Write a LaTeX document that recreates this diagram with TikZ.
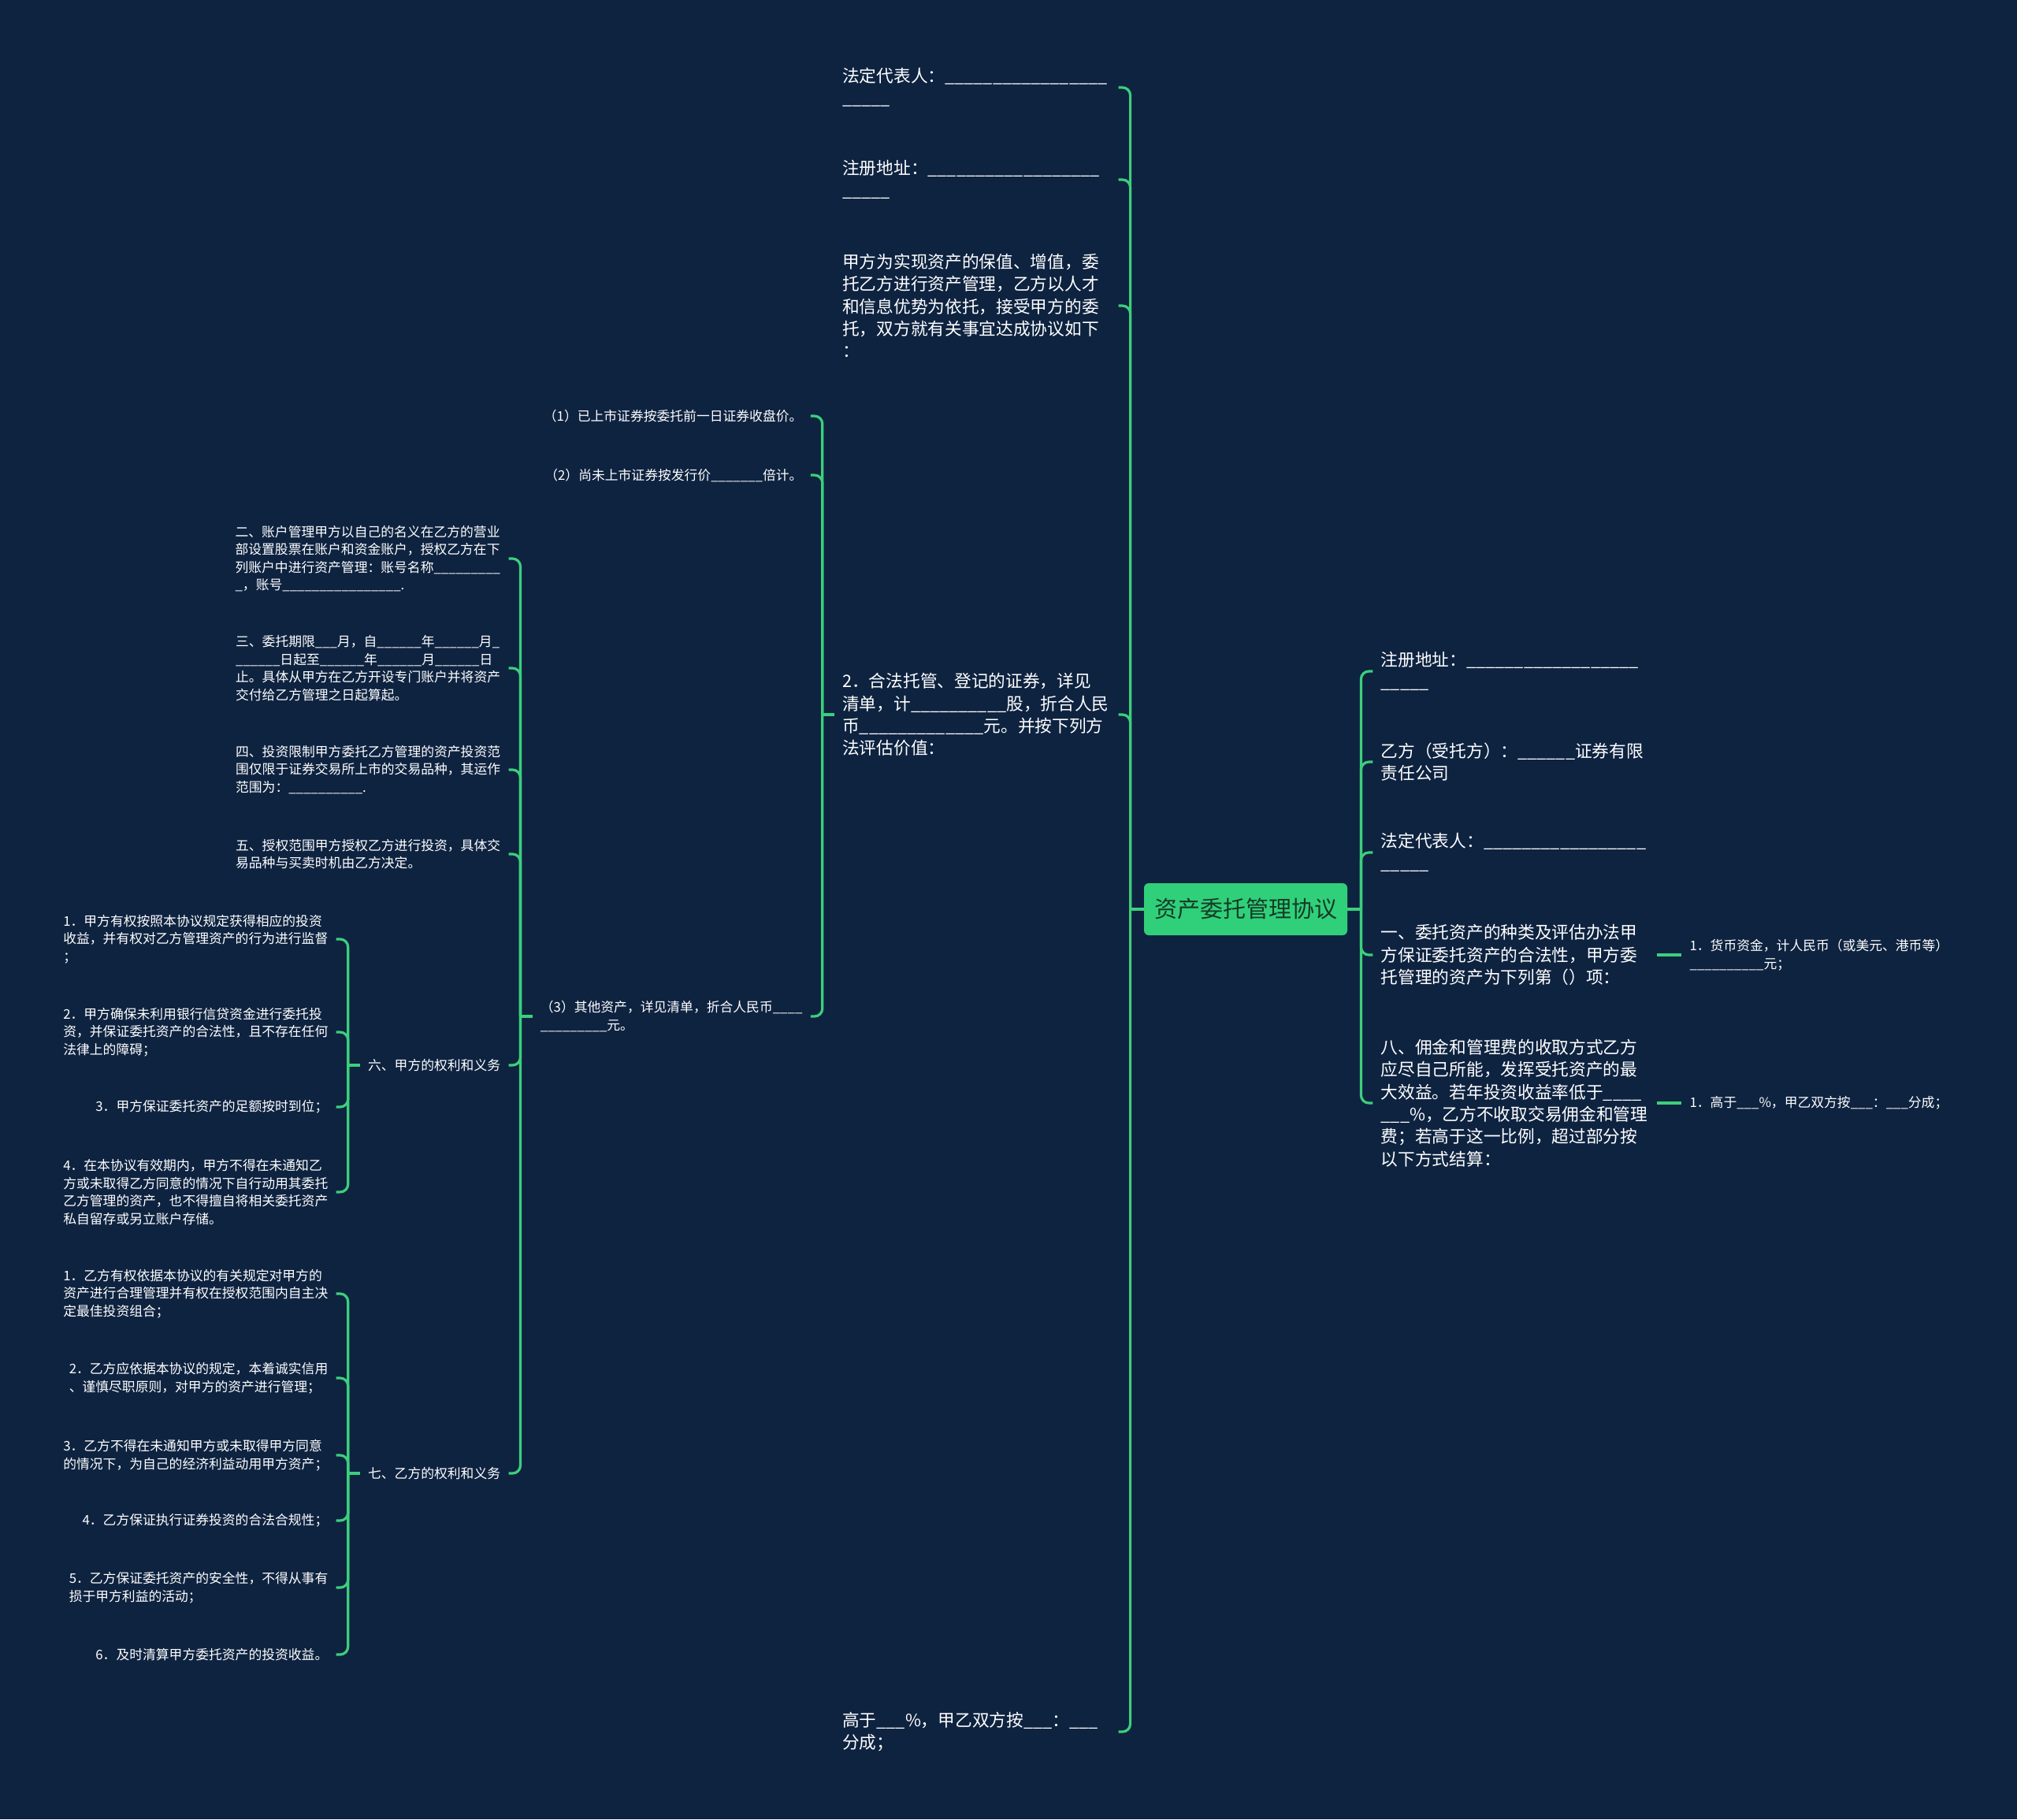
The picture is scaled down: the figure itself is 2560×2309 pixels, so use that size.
\documentclass[tikz,border=0pt]{standalone}
\usepackage{fontspec}
\setmainfont{Noto Sans CJK SC}
\usetikzlibrary{calc}
\definecolor{bgc}{HTML}{0E2340}
\definecolor{lnk}{HTML}{3CCF7C}
\definecolor{rootfill}{HTML}{30D07A}
\definecolor{roottext}{HTML}{163A26}
\newcommand\fmain{\fontsize{10.85pt}{14.15pt}\selectfont}
\newcommand\fsmall{\fontsize{8.4pt}{11.25pt}\selectfont}
\newcommand\froot{\fontsize{14.5pt}{17pt}\selectfont}
\catcode`\_=12
\begin{document}
\begin{tikzpicture}[x=0.5pt,y=-0.5pt,
  link/.style={draw=lnk,line width=1.6pt,rounded corners=5pt},
  rootbox/.style={fill=rootfill,rounded corners=3pt,minimum width=129pt,minimum height=33pt,inner sep=0pt,font=\froot,text=roottext},
  mainL/.style={anchor=east,text width=170pt,align=left,inner xsep=5pt,inner ysep=2pt,font=\fmain,text=white},
  mainR/.style={mainL,anchor=west},
  smallL/.style={anchor=east,align=left,inner xsep=5pt,inner ysep=2pt,font=\fsmall,text=white},
  smallR/.style={smallL,anchor=west}]
\fill[bgc] (0,0) rectangle (2560,2309);
\useasboundingbox (0,0) rectangle (2560,2309);

% root
\node[rootbox] (root) at (1581,1154) {资产委托管理协议};

% main left
\coordinate (jL) at ($(root.west)+(-17,0)$);
\coordinate (cL) at ($(jL)+(-15,0)$);
\node[mainL] (l1) at (cL |- 0,111) {法定代表人：_________________\\_____};
\node[mainL] (l2) at (cL |- 0,228) {注册地址：__________________\\_____};
\node[mainL] (l3) at (cL |- 0,388) {甲方为实现资产的保值、增值，委\\托乙方进行资产管理，乙方以人才\\和信息优势为依托，接受甲方的委\\托，双方就有关事宜达成协议如下\\：};
\node[mainL] (l4) at (cL |- 0,907) {2．合法托管、登记的证券，详见\\清单，计__________股，折合人民\\币_____________元。并按下列方\\法评估价值：};
\node[mainL] (l5) at (cL |- 0,2198) {高于___\%，甲乙双方按___：___\\分成；};
\draw[link] (root.west) -- (jL);
\foreach \n in {l1,l2,l3,l4,l5} \draw[link] (jL) |- (\n.east);

% (1)(2)(3)
\coordinate (j4) at ($(l4.west)+(-15,0)$);
\coordinate (c4) at ($(j4)+(-15,0)$);
\node[smallL] (s1) at (c4 |- 0,528) {（1）已上市证券按委托前一日证券收盘价。};
\node[smallL] (s2) at (c4 |- 0,603) {（2）尚未上市证券按发行价_______倍计。};
\node[smallL] (s3) at (c4 |- 0,1290) {（3）其他资产，详见清单，折合人民币____\\_________元。};
\draw[link] (l4.west) -- (j4);
\foreach \n in {s1,s2,s3} \draw[link] (j4) |- (\n.east);

% children of (3)
\coordinate (j3) at ($(s3.west)+(-15,0)$);
\coordinate (c3) at ($(j3)+(-15,0)$);
\node[smallL] (a2) at (c3 |- 0,709) {二、账户管理甲方以自己的名义在乙方的营业\\部设置股票在账户和资金账户，授权乙方在下\\列账户中进行资产管理：账号名称_________\\_，账号________________.};
\node[smallL] (a3) at (c3 |- 0,848) {三、委托期限___月，自______年______月_\\______日起至______年______月______日\\止。具体从甲方在乙方开设专门账户并将资产\\交付给乙方管理之日起算起。};
\node[smallL] (a4) at (c3 |- 0,977) {四、投资限制甲方委托乙方管理的资产投资范\\围仅限于证券交易所上市的交易品种，其运作\\范围为：__________.};
\node[smallL] (a5) at (c3 |- 0,1084) {五、授权范围甲方授权乙方进行投资，具体交\\易品种与买卖时机由乙方决定。};
\node[smallL] (a6) at (c3 |- 0,1352) {六、甲方的权利和义务};
\node[smallL] (a7) at (c3 |- 0,1870) {七、乙方的权利和义务};
\draw[link] (s3.west) -- (j3);
\foreach \n in {a2,a3,a4,a5,a6,a7} \draw[link] (j3) |- (\n.east);

% children of 六
\coordinate (j6) at ($(a6.west)+(-15,0)$);
\coordinate (c6) at ($(j6)+(-15,0)$);
\node[smallL] (q1) at (c6 |- 0,1192) {1．甲方有权按照本协议规定获得相应的投资\\收益，并有权对乙方管理资产的行为进行监督\\；};
\node[smallL] (q2) at (c6 |- 0,1310) {2．甲方确保未利用银行信贷资金进行委托投\\资，并保证委托资产的合法性，且不存在任何\\法律上的障碍；};
\node[smallL] (q3) at (c6 |- 0,1405) {3．甲方保证委托资产的足额按时到位；};
\node[smallL] (q4) at (c6 |- 0,1513) {4．在本协议有效期内，甲方不得在未通知乙\\方或未取得乙方同意的情况下自行动用其委托\\乙方管理的资产，也不得擅自将相关委托资产\\私自留存或另立账户存储。};
\draw[link] (a6.west) -- (j6);
\foreach \n in {q1,q2,q3,q4} \draw[link] (j6) |- (\n.east);

% children of 七
\coordinate (j7) at ($(a7.west)+(-15,0)$);
\coordinate (c7) at ($(j7)+(-15,0)$);
\node[smallL] (p1) at (c7 |- 0,1642) {1．乙方有权依据本协议的有关规定对甲方的\\资产进行合理管理并有权在授权范围内自主决\\定最佳投资组合；};
\node[smallL] (p2) at (c7 |- 0,1749) {2．乙方应依据本协议的规定，本着诚实信用\\、谨慎尽职原则，对甲方的资产进行管理；};
\node[smallL] (p3) at (c7 |- 0,1847) {3．乙方不得在未通知甲方或未取得甲方同意\\的情况下，为自己的经济利益动用甲方资产；};
\node[smallL] (p4) at (c7 |- 0,1930) {4．乙方保证执行证券投资的合法合规性；};
\node[smallL] (p5) at (c7 |- 0,2015) {5．乙方保证委托资产的安全性，不得从事有\\损于甲方利益的活动；};
\node[smallL] (p6) at (c7 |- 0,2100) {6．及时清算甲方委托资产的投资收益。};
\draw[link] (a7.west) -- (j7);
\foreach \n in {p1,p2,p3,p4,p5,p6} \draw[link] (j7) |- (\n.east);

% main right
\coordinate (jR) at ($(root.east)+(17,0)$);
\coordinate (cR) at ($(jR)+(15,0)$);
\node[mainR] (r1) at (cR |- 0,852) {注册地址：__________________\\_____};
\node[mainR] (r2) at (cR |- 0,967) {乙方（受托方）：______证券有限\\责任公司};
\node[mainR] (r3) at (cR |- 0,1082) {法定代表人：_________________\\_____};
\node[mainR] (r4) at (cR |- 0,1212) {一、委托资产的种类及评估办法甲\\方保证委托资产的合法性，甲方委\\托管理的资产为下列第（）项：};
\node[mainR] (r5) at (cR |- 0,1400) {八、佣金和管理费的收取方式乙方\\应尽自己所能，发挥受托资产的最\\大效益。若年投资收益率低于____\\___\%，乙方不收取交易佣金和管理\\费；若高于这一比例，超过部分按\\以下方式结算：};
\draw[link] (root.east) -- (jR);
\foreach \n in {r1,r2,r3,r4,r5} \draw[link] (jR) |- (\n.west);

% grandchildren right
\node[smallR] (g1) at ($(r4.east)+(31,0)$) {1．货币资金，计人民币（或美元、港币等）\\__________元；};
\node[smallR] (g2) at ($(r5.east)+(31,0)$) {1．高于___\%，甲乙双方按___：___分成；};
\draw[link] (r4.east) -- (g1.west);
\draw[link] (r5.east) -- (g2.west);
\end{tikzpicture}
\end{document}
